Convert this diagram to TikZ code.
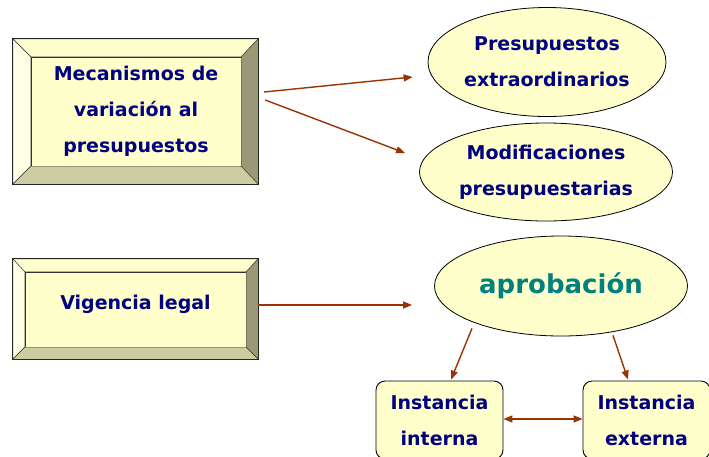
\documentclass[tikz,border=0pt]{standalone}
\usepackage{fontspec}
\setmainfont{DejaVu Sans}
\usetikzlibrary{shapes.geometric,arrows.meta}
\definecolor{boxfill}{HTML}{FFFFCC}
\definecolor{bevlight}{HTML}{FFFFE6}
\definecolor{bevtop}{HTML}{FFFFCC}
\definecolor{bevdark}{HTML}{999977}
\definecolor{bevlow}{HTML}{CCCCA3}
\definecolor{txtblue}{HTML}{000080}
\definecolor{txtteal}{HTML}{008080}
\definecolor{arrowred}{HTML}{993300}
% bevelled frame between an outer and an inner node
\newcommand{\bevelframe}[2]{%
  \filldraw[fill=bevtop,draw=black!80] (#1.north west) -- (#1.north east) -- (#2.north east) -- (#2.north west) -- cycle;
  \filldraw[fill=bevlight,draw=black!80] (#1.north west) -- (#2.north west) -- (#2.south west) -- (#1.south west) -- cycle;
  \filldraw[fill=bevdark,draw=black!80] (#1.north east) -- (#1.south east) -- (#2.south east) -- (#2.north east) -- cycle;
  \filldraw[fill=bevlow,draw=black!80] (#1.south west) -- (#1.south east) -- (#2.south east) -- (#2.south west) -- cycle;
  \draw[black!85,line width=0.9pt] (#1.north west) rectangle (#1.south east);
}

\begin{document}
\begin{tikzpicture}[x=1pt,y=-1pt]
        \tikzset{frame/.style = {rectangle,minimum width=245pt,inner sep=0pt}}
        \tikzset{face/.style = {rectangle,fill=boxfill,draw=black!80,inner sep=0pt,text=txtblue,align=center,font=\bfseries\fontsize{19}{36}\selectfont}}
        \tikzset{oval/.style = {ellipse,fill=boxfill,draw=black,line width=0.8pt,inner sep=0pt,text=txtblue,align=center,font=\bfseries\fontsize{19}{36}\selectfont}}
        \tikzset{roundbox/.style = {rectangle,rounded corners=9pt,fill=boxfill,draw=black,line width=0.9pt,minimum width=127pt,minimum height=78pt,text=txtblue,align=center,font=\bfseries\fontsize{19}{36}\selectfont}}
        \tikzset{edge/.style = {-{Triangle[length=9pt,width=7pt]},draw=arrowred,line width=1.4pt}}
        \useasboundingbox (0,0) rectangle (709,456);
        % boxes
        \node[frame,minimum height=145pt] (mec) at (135.5,111.5) {};
        \node[face,minimum width=210pt,minimum height=109pt] (meci) at (136,111.5) {Mecanismos de\\variación al\\presupuestos};
        \bevelframe{mec}{meci}
        \node[frame,minimum height=100pt] (vig) at (135.5,309) {};
        \node[face,minimum width=221pt,minimum height=75pt] (vigi) at (135.5,309.5) {};
        \bevelframe{vig}{vigi}
        \node[text=txtblue,font=\bfseries\fontsize{19}{36}\selectfont] (vigt) at (135.5,304) {Vigencia legal};
        % ovals
        \node[oval,minimum width=238pt,minimum height=109pt] (pres) at (547,62) {Presupuestos\\extraordinarios};
        \node[oval,minimum width=253pt,minimum height=98pt] (mod) at (546,172) {Modificaciones\\presupuestarias};
        \node[oval,minimum width=253pt,minimum height=100pt,text=txtteal,font=\bfseries\fontsize{26}{30}\selectfont] (apro) at (561,286) {aprobación};
        \node[roundbox] (int) at (439.5,420) {Instancia\\interna};
        \node[roundbox] (ext) at (646.5,420) {Instancia\\externa};
        %edges
        \draw[edge] ([shift={(6,-19.5)}]mec.east) -- ([shift={(-15,15)}]pres.west);
        \draw[edge] ([shift={(7,-11.5)}]mec.east) -- ([shift={(-14,-19)}]mod.west);
        \draw[edge] ([shift={(0,-4)}]vig.east) -- ([shift={(-22,19)}]apro.west);
        \draw[edge] ([shift={(-89,-8)}]apro.south) -- ([shift={(11.5,-1)}]int.north);
        \draw[edge] ([shift={(52,-1)}]apro.south) -- ([shift={(-18.5,-1)}]ext.north);
        \draw[edge,{Triangle[length=9pt,width=7pt]}-{Triangle[length=9pt,width=7pt]}] ([shift={(0,-1)}]int.east) -- ([shift={(0,-1)}]ext.west);
\end{tikzpicture}
\end{document}
